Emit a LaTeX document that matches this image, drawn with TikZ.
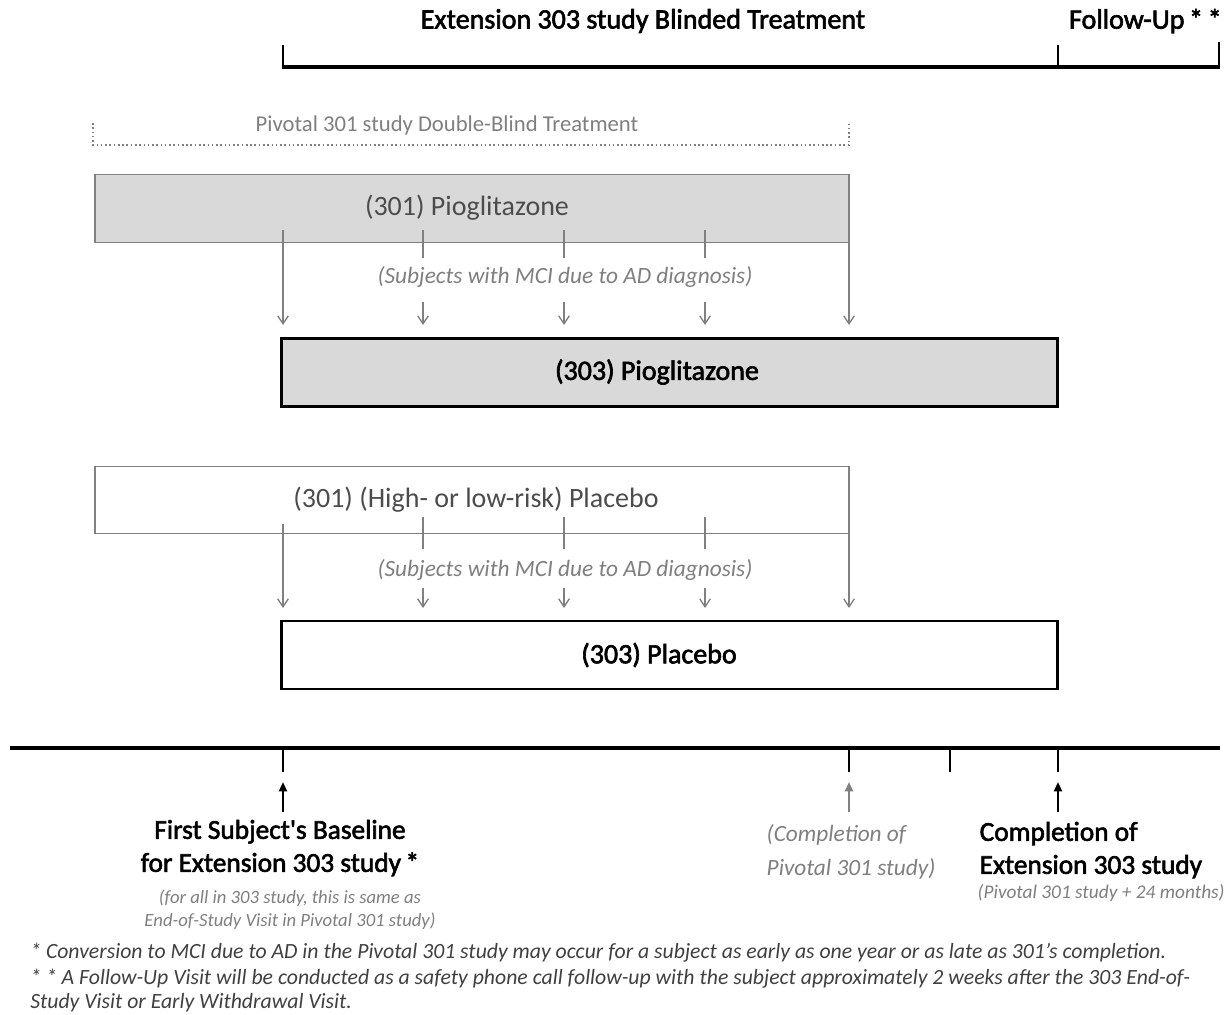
\documentclass[tikz,border=0pt]{standalone}
\usepackage{fontspec}
\setmainfont{Carlito}
\newfontfamily\heavyfont[FakeBold=2.2]{Carlito}
\usetikzlibrary{arrows.meta}
\definecolor{grayline}{HTML}{808080}
\definecolor{boxfill}{HTML}{D9D9D9}
\definecolor{txtgray}{HTML}{7F7F7F}
\tikzset{
  px/.style={x=0.75pt,y=-0.75pt},
  thickbar/.style={line width=3pt,black},
  tick/.style={line width=2pt,black},
  graytick/.style={line width=1pt,grayline},
  grayarrow/.style={line width=1pt,grayline,-{Straight Barb[length=6pt,width=8pt]}},
  blackup/.style={line width=1.6pt,black,-{Triangle[length=7pt,width=6pt]}},
  grayup/.style={line width=1.6pt,grayline,-{Triangle[length=7pt,width=6pt]}},
  box301/.style={draw=grayline,line width=0.8pt,minimum width=565.5pt,minimum height=50.5pt,inner sep=0pt},
  box303/.style={draw=black,line width=2.2pt,minimum width=582pt,minimum height=51pt,inner sep=0pt},
  boxtext/.style={font=\fontsize{21}{25}\selectfont},
  darktext/.style={font=\fontsize{21}{25}\selectfont\heavyfont},
  smallital/.style={font=\fontsize{17.5}{21}\selectfont\itshape,text=txtgray},
  labeltext/.style={font=\fontsize{20.5}{24.75}\selectfont\heavyfont,align=center},
  foot/.style={font=\fontsize{16.3}{17.5}\selectfont\itshape,text=black!75},
}
\begin{document}
\begin{tikzpicture}[px]
\useasboundingbox (0,0) rectangle (1230,1014);
% top bracket
\node[font=\fontsize{21}{25}\selectfont\heavyfont] (ext) at (643,21) {Extension 303 study Blinded Treatment};
\node[font=\fontsize{21}{25}\selectfont\heavyfont,anchor=east,inner xsep=0pt] (fu) at (1222,21) {Follow-Up\,*\,*};
\coordinate (tl) at (283,45); \coordinate (tlb) at (283,67);
\coordinate (tm) at (1058,45); \coordinate (tmb) at (1058,67);
\coordinate (tr) at (1219,42); \coordinate (trb) at (1219,67);
\draw[thickbar] (tlb) -- (trb);
\draw[tick] (tl) -- ([yshift=-1.5pt]tlb);
\draw[line width=1.2pt] (tm) -- (tmb);
\draw[tick] (tr) -- ([yshift=-1.5pt]trb);
% pivotal dotted bracket
\node[font=\fontsize{17}{20}\selectfont,text=txtgray] (piv) at (447,125) {Pivotal 301 study Double-Blind Treatment};
\coordinate (pl) at (93,123); \coordinate (plb) at (93,145);
\coordinate (pr) at (849,123); \coordinate (prb) at (849,145);
\draw[grayline,line width=1.2pt,dotted] (pl) -- (plb) -- (prb) -- (pr);
% box 1
\node[box301,fill=boxfill] (b1) at (472,208.5) {};
\node[boxtext,text=black!70] (b1t) at (467,208) {(301) Pioglitazone};
% box 2
\node[box303,fill=boxfill] (b2) at (669.5,372.5) {};
\node[darktext] (b2t) at (657,372) {(303) Pioglitazone};
% arrows box1 -> box2
\coordinate (a1s) at (283,230); \coordinate (a1e) at (283,325);
\coordinate (a5s) at (849,243); \coordinate (a5e) at (849,325);
\draw[grayarrow] (a1s) -- (a1e);
\draw[grayarrow] (a5s) -- (a5e);
\foreach \xx/\nm in {423/a2,564/a3,705/a4}{
  \coordinate (\nm s) at (\xx,230); \coordinate (\nm m) at (\xx,258);
  \coordinate (\nm n) at (\xx,302); \coordinate (\nm e) at (\xx,325);
  \draw[graytick] (\nm s) -- (\nm m);
  \draw[grayarrow] (\nm n) -- (\nm e);
}
\node[smallital] (subj1) at (565,277) {(Subjects with MCI due to AD diagnosis)};
% box 3
\node[box301,fill=white] (b3) at (472,500) {};
\node[boxtext,text=black!70] (b3t) at (476,500) {(301) (High- or low-risk) Placebo};
% box 4
\node[box303,fill=white] (b4) at (669.5,655) {};
\node[darktext] (b4t) at (659,655) {(303) Placebo};
\coordinate (c1s) at (283,524); \coordinate (c1e) at (283,608);
\coordinate (c5s) at (849,533); \coordinate (c5e) at (849,608);
\draw[grayarrow] (c1s) -- (c1e);
\draw[grayarrow] (c5s) -- (c5e);
\foreach \xx/\nm in {423/c2,564/c3,705/c4}{
  \coordinate (\nm s) at (\xx,517); \coordinate (\nm m) at (\xx,549);
  \coordinate (\nm n) at (\xx,588); \coordinate (\nm e) at (\xx,608);
  \draw[graytick] (\nm s) -- (\nm m);
  \draw[grayarrow] (\nm n) -- (\nm e);
}
\node[smallital] (subj2) at (565,570) {(Subjects with MCI due to AD diagnosis)};
% bottom timeline
\coordinate (tll) at (10,748); \coordinate (tlr) at (1220,748);
\draw[thickbar] (tll) -- (tlr);
\foreach \xx/\nm in {283/k1,849/k2,950/k3,1058/k4}{
  \coordinate (\nm a) at (\xx,748); \coordinate (\nm b) at (\xx,772);
  \draw[tick] (\nm a) -- (\nm b);
}
\node[labeltext] (fs) at (280,848) {First Subject's Baseline\\for Extension 303 study\,*};
\node[align=center,font=\fontsize{14}{17.5}\selectfont\itshape,text=txtgray] (fsn) at (290,910) {(for all in 303 study, this is same as\\End-of-Study Visit in Pivotal 301 study)};
\node[align=left,anchor=west,font=\fontsize{17.5}{26}\selectfont\itshape,text=txtgray] (cp) at (762,852) {(Completion of\\Pivotal 301 study)};
\node[labeltext,align=left,anchor=west] (ce) at (975,850) {Completion of\\Extension 303 study};
\node[anchor=west,font=\fontsize{14.5}{17}\selectfont\itshape,text=txtgray] (cen) at (973,893) {(Pivotal 301 study + 24 months)};
\coordinate (u1s) at (283,812); \coordinate (u1e) at (283,782);
\coordinate (u2s) at (849,812); \coordinate (u2e) at (849,782);
\coordinate (u3s) at (1058,812); \coordinate (u3e) at (1058,782);
\draw[blackup] (u1s) -- (u1e);
\draw[grayup] (u2s) -- (u2e);
\draw[blackup] (u3s) -- (u3e);
% footnotes
\node[anchor=west,foot,inner xsep=0pt] (fn1) at (30,953) {* Conversion to MCI due to AD in the Pivotal 301 study may occur for a subject as early as one year or as late as 301's completion.};
\node[anchor=base west,align=left,foot,inner sep=0pt] (fn2) at (30,1008) {* * A Follow-Up Visit will be conducted as a safety phone call follow-up with the subject approximately 2 weeks after the 303 End-of-\\Study Visit or Early Withdrawal Visit.};
\end{tikzpicture}
\end{document}
